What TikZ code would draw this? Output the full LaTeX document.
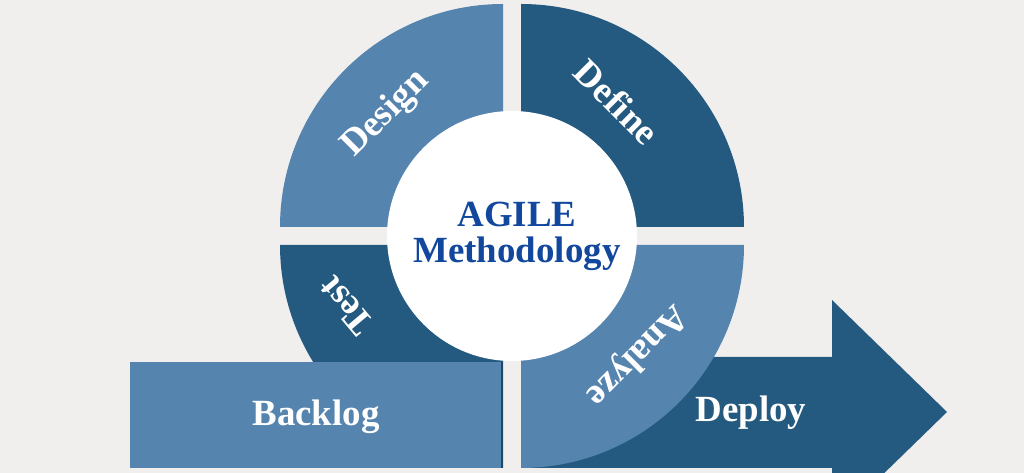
\documentclass[tikz,border=0pt]{standalone}
\usepackage{fontspec}
\setmainfont{Liberation Serif}
\definecolor{bgc}{HTML}{F0EFED}
\definecolor{midblue}{HTML}{5584AF}
\definecolor{darkblue}{HTML}{255A80}
\definecolor{titleblue}{HTML}{11479C}
\begin{document}
\begin{tikzpicture}[x=0.2mm, y=0.2mm,
  steptext/.style={text=white, font=\bfseries\fontsize{21}{22}\selectfont}]
\clip (0,0) rectangle (1024,473);
\fill[bgc] (0,0) rectangle (1024,473);
% four quarter rings, corner x/y, start angle, colour (radius 223)
\def\rr{223}
\foreach \cx/\cy/\a/\col in {521/246/0/darkblue, 503/246/90/midblue, 503/228/180/darkblue}
  \fill[\col] (\cx,\cy) -- ++(\a:\rr) arc[start angle=\a, end angle=\a+90, radius=\rr] -- cycle;
% deploy arrow sits under the analyze quarter
\fill[darkblue] (521,5) -- (832,5) -- (832,-51) -- (947,61) -- (832,173) -- (832,116) -- (521,116) -- cycle;
\fill[midblue] (521,228) -- ++(270:\rr) arc[start angle=270, end angle=360, radius=\rr] -- cycle;
% backlog bar
\fill[midblue] (130,5) rectangle (503,111);
\draw[darkblue!80!black, line width=0.4mm] (502,5) -- (502,111);
% centre disc
\fill[white] (512,237) circle[radius=125];
\node[steptext, rotate=45] (design) at (386,359) {Design};
\node[steptext, rotate=-45] (define) at (617,371) {Define};
\node[steptext, rotate=130] (test) at (346,167) {Test};
\node[steptext, rotate=-135] (analyze) at (636,118) {Analyze};
\node[steptext] (backlog) at (316,56) {Backlog};
\node[steptext] (deploy) at (751,60) {Deploy};
\node[text=titleblue, align=center, font=\bfseries\fontsize{21}{20.5}\selectfont] (agile) at (517,237) {AGILE\\Methodology};
\end{tikzpicture}
\end{document}
